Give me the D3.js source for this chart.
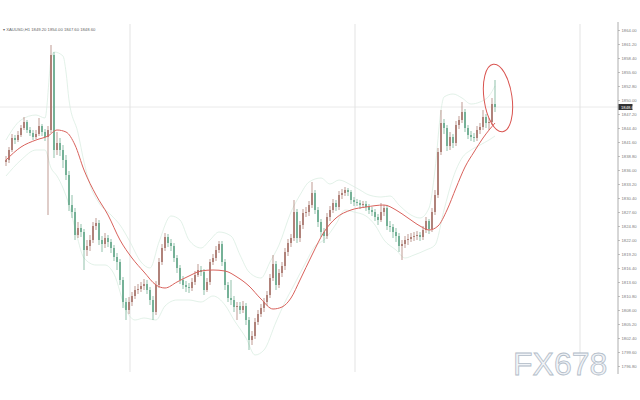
<!DOCTYPE html>
<html><head><meta charset="utf-8">
<script src="https://cdn.jsdelivr.net/npm/d3@7"></script>
<style>html,body{margin:0;padding:0;background:#fff;}svg{display:block;}</style>
</head><body>
<svg id="c" width="640" height="400"></svg>
<script>
// ---------- DATA ----------
const title = "XAUUSD,H1  1849.20 1854.00 1847.60 1848.60";
const opens = [1837.6,1838.0,1840.0,1842.4,1842.0,1843.0,1844.4,1845.6,1844.0,1843.4,1842.6,1843.2,1844.8,1843.6,1842.6,1844.0,1859.0,1840.0,1841.4,1840.0,1838.0,1835.0,1829.0,1827.6,1823.0,1824.4,1823.6,1820.0,1820.8,1822.0,1824.8,1825.4,1822.0,1821.2,1822.4,1821.6,1820.4,1818.6,1817.6,1814.0,1809.6,1808.0,1809.6,1810.8,1812.0,1812.2,1812.8,1813.2,1812.0,1810.0,1807.6,1813.0,1817.6,1820.4,1822.6,1821.4,1820.8,1818.4,1816.4,1814.0,1813.0,1812.6,1812.4,1813.6,1815.0,1816.0,1815.6,1812.0,1813.6,1817.6,1818.4,1820.0,1821.2,1817.6,1813.0,1810.4,1810.0,1808.6,1808.8,1808.0,1808.8,1806.0,1802.0,1802.8,1805.6,1807.2,1808.4,1809.6,1811.0,1814.4,1817.2,1813.0,1815.4,1816.8,1819.6,1821.4,1822.4,1827.6,1822.4,1825.0,1827.4,1827.6,1829.0,1831.4,1828.0,1825.6,1823.6,1822.8,1826.6,1828.0,1829.4,1828.6,1831.0,1831.4,1832.0,1831.6,1830.0,1829.6,1829.4,1829.0,1829.2,1828.6,1828.0,1827.6,1826.6,1826.0,1827.6,1828.4,1824.8,1824.6,1823.6,1822.8,1820.8,1821.2,1822.0,1822.2,1822.6,1822.8,1823.0,1822.6,1824.0,1825.8,1824.2,1827.6,1831.0,1839.6,1845.4,1844.4,1840.8,1842.6,1841.4,1845.0,1846.0,1847.6,1844.4,1843.0,1842.6,1842.4,1844.0,1844.6,1846.6,1845.4,1845.6,1849.2];
const closes = [1838.0,1840.0,1842.4,1842.0,1843.0,1844.4,1845.6,1844.0,1843.4,1842.6,1843.2,1844.8,1843.6,1842.6,1844.0,1859.0,1840.0,1841.4,1840.0,1838.0,1835.0,1829.0,1827.6,1823.0,1824.4,1823.6,1820.0,1820.8,1822.0,1824.8,1825.4,1822.0,1821.2,1822.4,1821.6,1820.4,1818.6,1817.6,1814.0,1809.6,1808.0,1809.6,1810.8,1812.0,1812.2,1812.8,1813.2,1812.0,1810.0,1807.6,1813.0,1817.6,1820.4,1822.6,1821.4,1820.8,1818.4,1816.4,1814.0,1813.0,1812.6,1812.4,1813.6,1815.0,1816.0,1815.6,1812.0,1813.6,1817.6,1818.4,1820.0,1821.2,1817.6,1813.0,1810.4,1810.0,1808.6,1808.8,1808.0,1808.8,1806.0,1802.0,1802.8,1805.6,1807.2,1808.4,1809.6,1811.0,1814.4,1817.2,1813.0,1815.4,1816.8,1819.6,1821.4,1822.4,1827.6,1822.4,1825.0,1827.4,1827.6,1829.0,1831.4,1828.0,1825.6,1823.6,1822.8,1826.6,1828.0,1829.4,1828.6,1831.0,1831.4,1832.0,1831.6,1830.0,1829.6,1829.4,1829.0,1829.2,1828.6,1828.0,1827.6,1826.6,1826.0,1827.6,1828.4,1824.8,1824.6,1823.6,1822.8,1820.8,1821.2,1822.0,1822.2,1822.6,1822.8,1823.0,1822.6,1824.0,1825.8,1824.2,1827.6,1831.0,1839.6,1845.4,1844.4,1840.8,1842.6,1841.4,1845.0,1846.0,1847.6,1844.4,1843.0,1842.6,1842.4,1844.0,1844.6,1846.6,1845.4,1845.6,1849.2,1848.6];
const highs = [1838.8,1840.6,1843.2,1843.0,1843.8,1845.0,1846.6,1846.0,1844.6,1844.0,1844.0,1846.4,1845.2,1844.2,1844.8,1861.0,1859.6,1843.6,1842.4,1841.0,1839.0,1835.8,1831.0,1828.4,1825.6,1825.2,1824.2,1822.0,1823.0,1825.6,1826.4,1826.0,1822.8,1823.4,1823.0,1822.2,1821.0,1819.4,1818.2,1814.6,1810.4,1810.6,1811.6,1812.8,1813.2,1813.6,1814.2,1814.0,1812.6,1810.8,1813.8,1818.4,1821.2,1823.4,1823.2,1822.2,1821.4,1819.0,1817.0,1814.8,1813.8,1813.4,1814.4,1815.8,1817.2,1816.8,1816.2,1814.4,1818.2,1819.2,1820.8,1821.8,1821.8,1818.2,1813.6,1814.0,1810.8,1809.6,1809.6,1809.8,1809.4,1806.6,1803.8,1806.4,1808.0,1809.2,1810.4,1811.8,1815.2,1819.0,1817.8,1816.2,1817.6,1820.4,1822.2,1823.2,1830.0,1828.2,1825.8,1828.2,1828.6,1829.8,1833.6,1832.0,1828.6,1826.2,1824.4,1827.4,1828.8,1830.2,1830.0,1831.8,1832.2,1832.6,1832.4,1832.0,1830.6,1830.2,1830.0,1829.8,1829.8,1829.2,1828.6,1828.2,1827.2,1829.4,1829.0,1829.0,1825.8,1825.2,1824.4,1823.4,1822.0,1822.8,1823.2,1823.4,1823.6,1823.8,1823.6,1824.8,1826.6,1826.2,1828.4,1832.0,1840.4,1848.0,1846.2,1845.0,1843.6,1843.2,1845.8,1846.8,1849.6,1848.2,1845.0,1843.8,1843.4,1844.8,1845.4,1848.0,1847.2,1846.4,1850.4,1854.0];
const lows = [1836.8,1837.4,1839.6,1841.2,1841.6,1842.6,1844.0,1843.4,1842.8,1842.0,1842.2,1842.8,1842.8,1841.8,1827.0,1843.4,1838.4,1839.0,1838.8,1836.4,1834.0,1827.8,1826.4,1822.0,1822.4,1822.6,1816.0,1818.8,1819.8,1821.4,1824.0,1821.0,1819.6,1820.4,1820.6,1819.4,1817.8,1816.0,1813.0,1808.4,1806.0,1807.2,1808.8,1810.2,1811.2,1811.6,1812.0,1811.2,1809.0,1806.0,1807.0,1812.4,1817.0,1819.8,1820.6,1819.8,1817.6,1815.4,1813.2,1812.2,1811.6,1811.4,1811.8,1813.0,1814.6,1814.8,1811.0,1811.6,1813.0,1817.0,1817.8,1819.4,1816.8,1812.0,1809.6,1809.0,1807.6,1806.0,1807.2,1807.4,1805.0,1800.0,1801.0,1802.2,1805.0,1806.6,1807.6,1808.8,1810.4,1813.8,1812.0,1812.4,1814.6,1816.0,1818.8,1820.6,1821.8,1821.4,1821.6,1824.2,1826.6,1826.8,1828.4,1827.2,1824.6,1822.6,1821.4,1822.2,1825.8,1827.4,1827.8,1828.0,1830.2,1830.8,1830.8,1829.2,1828.8,1828.8,1828.2,1828.4,1827.8,1827.2,1826.8,1825.8,1825.0,1825.6,1826.8,1824.0,1823.6,1822.4,1821.6,1819.6,1818.0,1820.4,1821.0,1821.6,1821.8,1822.0,1821.8,1822.0,1823.4,1823.2,1823.6,1827.0,1830.4,1839.0,1843.2,1839.8,1840.0,1840.4,1840.8,1844.2,1845.4,1843.6,1842.2,1841.8,1841.6,1841.8,1843.2,1844.0,1844.4,1844.0,1845.0,1847.6];
// moving average (red) samples: candle index / price
const maIdx = [0,5,10,14,17,20,23,26,30,34,38,42,46,50,53,57,61,65,69,73,77,81,85,89,92,95,98,102,106,110,115,120,126,130,134,138,141,144,147,150,153,156,159,163];
const maVal = [1838.0,1840.6,1842.0,1842.8,1844.0,1843.6,1841.0,1836.0,1831.0,1827.0,1822.0,1818.4,1815.6,1813.0,1812.4,1813.6,1814.8,1815.8,1816.0,1815.8,1814.6,1812.8,1810.2,1808.2,1808.6,1810.4,1814.0,1819.0,1823.6,1826.4,1828.0,1828.6,1829.0,1828.0,1826.4,1824.8,1824.0,1824.8,1828.0,1832.4,1836.6,1839.6,1842.4,1845.4];
// Bollinger bands (light green) samples
const upIdx = [0,5,10,13,15,16,19,20,21,24,26,28,31,35,38,41,45,48,51,55,58,61,65,68,71,75,78,81,85,88,91,95,98,101,105,108,111,115,118,121,125,128,131,135,138,141,143,145,146,149,152,155,158,161,163];
const upVal = [1842.0,1846.0,1847.0,1846.4,1858.0,1859.6,1858.8,1855.6,1850.0,1843.4,1837.6,1833.0,1829.4,1827.0,1825.0,1822.0,1817.6,1816.4,1821.6,1826.8,1826.0,1822.0,1820.4,1822.0,1823.6,1822.8,1819.0,1815.6,1814.4,1817.6,1821.0,1827.6,1831.0,1833.6,1834.4,1833.2,1834.0,1833.0,1832.0,1831.0,1830.6,1830.8,1829.0,1827.0,1826.4,1828.4,1836.0,1848.0,1850.6,1851.2,1850.4,1849.2,1849.6,1850.8,1852.8];
const loIdx = [0,5,10,13,15,17,19,21,23,26,30,33,36,40,43,46,50,53,57,61,65,69,73,76,80,83,86,90,93,96,100,103,106,110,113,116,120,123,126,130,133,136,140,143,146,149,152,155,158,161,163];
const loVal = [1834.8,1838.0,1840.0,1840.0,1836.4,1834.8,1832.4,1829.0,1824.4,1818.4,1817.0,1817.0,1815.2,1808.0,1806.0,1806.4,1806.0,1808.8,1810.0,1810.0,1809.6,1810.8,1809.0,1806.0,1802.4,1799.0,1800.0,1805.6,1809.6,1813.0,1817.6,1820.8,1822.0,1825.2,1828.0,1827.6,1826.8,1825.0,1822.0,1820.0,1818.4,1819.0,1820.0,1821.0,1828.0,1834.4,1838.4,1840.0,1841.0,1842.0,1842.8];
// price axis tick labels
const tickVals = [1864.0,1861.2,1858.4,1855.6,1852.8,1850.0,1847.2,1844.4,1841.6,1838.8,1836.0,1833.2,1830.4,1827.6,1824.8,1822.0,1819.2,1816.4,1813.6,1810.8,1808.0,1805.2,1802.4,1799.6,1796.8];
const gridIdx = [41.33,116.33,191.33]; // day separators (candle index)
const lastPrice = 1848.6;
const markIdx = 164, markPrice = 1850.4; // circled area

// ---------- CHART ----------
const svg = d3.select("#c");
const N = closes.length;
const x = d3.scaleLinear().domain([0, N-1]).range([6, 495]);
const y = d3.scaleLinear().domain([1864.0, 1796.8]).range([30, 366]);
const axisX = 618;

// vertical grid
svg.append("g").selectAll("line").data(gridIdx).join("line")
  .attr("x1", d=>x(d)).attr("x2", d=>x(d)).attr("y1", 24).attr("y2", 372)
  .attr("stroke", "#dcdcdc").attr("stroke-width", 0.8);
// current price line
svg.append("line").attr("x1", 0).attr("x2", axisX).attr("y1", y(lastPrice)).attr("y2", y(lastPrice))
  .attr("stroke", "#e4e4e4").attr("stroke-width", 0.8);

// bands
const lineGen = (idx) => d3.line().x((d,i)=>x(idx[i])).y(d=>y(d)).curve(d3.curveMonotoneX);
svg.append("path").datum(upVal).attr("d", lineGen(upIdx)).attr("fill","none").attr("stroke","#d6ebde").attr("stroke-width",0.7);
svg.append("path").datum(loVal).attr("d", lineGen(loIdx)).attr("fill","none").attr("stroke","#d6ebde").attr("stroke-width",0.7);

// candles
const upC = "#a57066", dnC = "#62a688";
const cg = svg.append("g");
const data = closes.map((c,i)=>({i, o:opens[i], h:highs[i], l:lows[i], c}));
cg.selectAll("line.w").data(data).join("line").attr("class","w")
  .attr("x1", d=>x(d.i)).attr("x2", d=>x(d.i)).attr("y1", d=>y(d.h)).attr("y2", d=>y(d.l))
  .attr("stroke", d=>d.c>=d.o?upC:dnC).attr("stroke-width", 0.7);
cg.selectAll("rect").data(data).join("rect")
  .attr("x", d=>x(d.i)-0.8).attr("width", 1.6)
  .attr("y", d=>y(Math.max(d.o,d.c)))
  .attr("height", d=>Math.max(0.6, Math.abs(y(d.o)-y(d.c))))
  .attr("fill", d=>d.c>=d.o?upC:dnC);

// moving average
svg.append("path").datum(maVal).attr("d", lineGen(maIdx)).attr("fill","none").attr("stroke","#d9625c").attr("stroke-width",1);

// circle annotation
svg.append("ellipse").attr("cx", x(markIdx)).attr("cy", y(markPrice)).attr("rx", 14).attr("ry", 34)
  .attr("transform", `rotate(-8 ${x(markIdx)} ${y(markPrice)})`)
  .attr("fill","none").attr("stroke","#d9534f").attr("stroke-width",1);

// right axis
const ax = d3.axisRight(y).tickValues(tickVals).tickSize(2).tickPadding(1.5).tickFormat(d3.format(".2f"));
const ag = svg.append("g").attr("transform", `translate(${axisX},0)`).call(ax);
ag.select(".domain").attr("d", "M0,22V374").attr("stroke","#9a9a9a").attr("stroke-width",0.8);
ag.selectAll(".tick line").attr("stroke","#9a9a9a").attr("stroke-width",0.6);
ag.selectAll("text").attr("font-family","Liberation Sans, Arial, sans-serif").attr("font-size",4.2).attr("fill","#808080");

// last price tag
const lp = svg.append("g").attr("transform", `translate(${axisX},${y(lastPrice)})`);
lp.append("rect").attr("x",0.5).attr("y",-3).attr("width",14).attr("height",6).attr("fill","#333");
lp.append("text").attr("x",3).attr("y",1.5).attr("font-family","Liberation Sans, Arial, sans-serif").attr("font-size",4.2).attr("fill","#fff").text(d3.format(".2f")(lastPrice));

// title
svg.append("text").attr("x",3).attr("y",31).attr("font-family","Liberation Sans, Arial, sans-serif").attr("font-size",4.2).attr("fill","#666").text("▾ " + title);

// watermark
svg.append("text").attr("x",513).attr("y",375).attr("font-family","Liberation Sans, Arial, sans-serif")
  .attr("font-size",32).attr("fill","#f0f3f7").attr("stroke","#b2bcc8").attr("stroke-width",0.8).text("FX678");
</script>
</body></html>
